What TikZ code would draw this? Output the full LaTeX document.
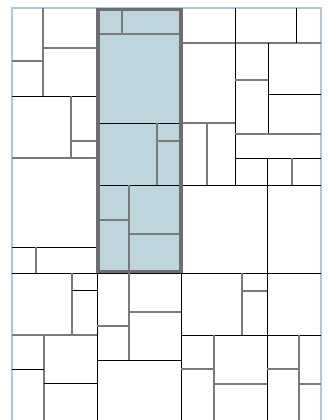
\documentclass[tikz,border=0pt]{standalone}
\usepackage{tikz}
\definecolor{frame}{HTML}{A9CADA}
\definecolor{pick}{HTML}{BED5DE}
\definecolor{pickedge}{HTML}{6E6E72}
\definecolor{inner}{HTML}{7A7A7A}
\tikzset{
  outer/.style={draw=frame,line width=1.4pt},
  major/.style={draw=black,line width=1pt},
  minor/.style={draw=inner,line width=1.3pt},
  chosen/.style={draw=pickedge,fill=pick,line width=3.4pt}
}
\begin{document}
\begin{tikzpicture}[x=1pt,y=-1pt]
  \useasboundingbox[fill=white] (0,0) rectangle (328,420);
  \fill[pick] (98,9.5) rectangle (181,271.5);
  \draw[outer] (12,420)--(12,8)--(321,8)--(321,420);
  \draw[major] (12,273)--(321,273);
  \draw[major] (97,273)--(97,420);
  \draw[major] (181,273)--(181,420);
  \draw[major] (267,158)--(267,420);
  % left column
  \draw[major] (12,96)--(97,96);
  \draw[minor] (43,8)--(43,96);
  \draw[minor] (12,61)--(43,61);
  \draw[minor] (43,48)--(97,48);
  \draw[minor] (71,96)--(71,158);
  \draw[minor] (71,141)--(97,141);
  \draw[minor] (12,158)--(97,158);
  \draw[major] (12,247)--(97,247);
  \draw[minor] (36,247)--(36,273);
  % highlighted column
  \draw[minor] (97,34)--(181,34);
  \draw[minor] (122,8)--(122,34);
  \draw[major] (97,123)--(181,123);
  \draw[minor] (157,123)--(157,185);
  \draw[minor] (157,141)--(181,141);
  \draw[major] (97,185)--(181,185);
  \draw[minor] (129,185)--(129,273);
  \draw[minor] (97,220)--(129,220);
  \draw[minor] (129,234)--(181,234);
  % right column
  \draw[minor] (181,43)--(321,43);
  \draw[major] (235,8)--(235,185);
  \draw[major] (296,8)--(296,43);
  \draw[major] (268,43)--(268,134);
  \draw[minor] (235,80)--(268,80);
  \draw[major] (268,94)--(321,94);
  \draw[minor] (235,134)--(321,134);
  \draw[minor] (181,123)--(235,123);
  \draw[minor] (207,123)--(207,185);
  \draw[major] (235,158)--(321,158);
  \draw[minor] (292,158)--(292,185);
  \draw[major] (181,185)--(321,185);
  % bottom row
  \draw[minor] (72,273)--(72,335);
  \draw[major] (72,290)--(97,290);
  \draw[minor] (12,335)--(97,335);
  \draw[minor] (44,335)--(44,420);
  \draw[major] (12,369)--(44,369);
  \draw[major] (44,383)--(97,383);
  \draw[minor] (129,273)--(129,360);
  \draw[minor] (97,326)--(129,326);
  \draw[minor] (129,312)--(181,312);
  \draw[major] (97,360)--(181,360);
  \draw[minor] (242,273)--(242,335);
  \draw[minor] (242,291)--(267,291);
  \draw[major] (181,335)--(321,335);
  \draw[minor] (214,335)--(214,420);
  \draw[minor] (181,369)--(214,369);
  \draw[minor] (214,384)--(267,384);
  \draw[minor] (299,335)--(299,420);
  \draw[minor] (267,369)--(299,369);
  \draw[minor] (299,384)--(321,384);
  \draw[chosen,fill=none] (98,9.5) rectangle (181,271.5);
\end{tikzpicture}
\end{document}
